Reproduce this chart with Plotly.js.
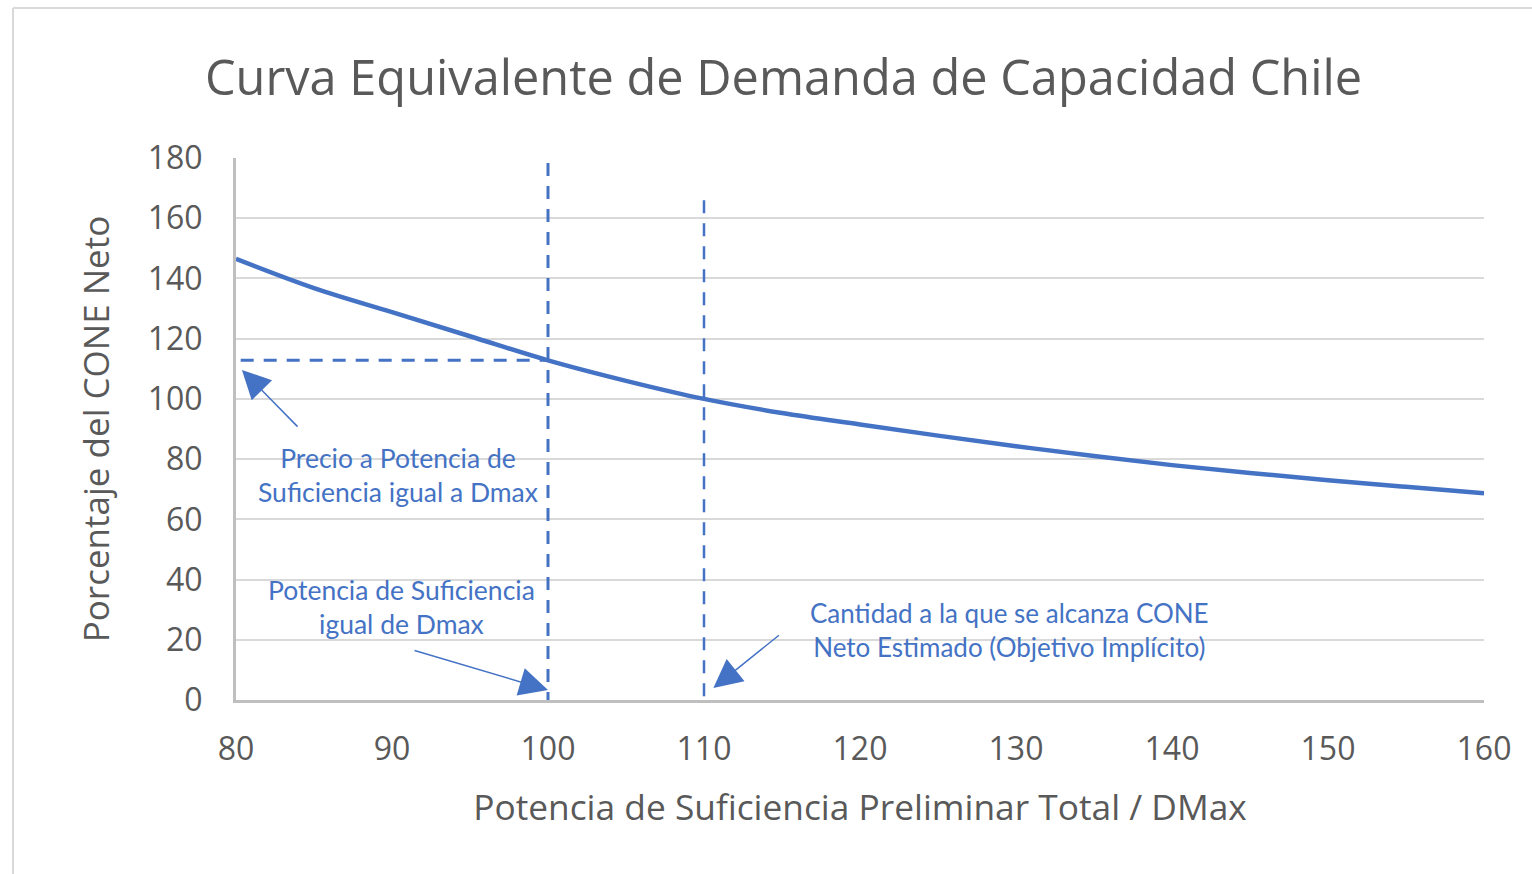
<!DOCTYPE html>
<html>
<head>
<meta charset="utf-8">
<script src="https://cdn.plot.ly/plotly-3.0.1.min.js"></script>
<style>html,body{margin:0;padding:0;background:#fff;}#chart{width:1532px;height:874px;}</style>
</head>
<body>
<div id="chart"></div>
<script>
// Data
const xValues = [80, 85, 90, 95, 100, 105, 110, 115, 120, 125, 130, 135, 140, 145, 150, 155, 160];
const yValues = [146.5, 136.8, 128.8, 120.8, 112.8, 106, 100, 95.3, 91.5, 87.8, 84.3, 81, 78, 75.4, 73, 70.8, 68.7];
const xTicks = [80, 90, 100, 110, 120, 130, 140, 150, 160];
const yTicks = [0, 20, 40, 60, 80, 100, 120, 140, 160, 180];
// reference lines (data units)
const priceLineX = [80.3, 100];
const priceLineY = [112.8, 112.8];
const dmaxLineX = [100, 100];
const dmaxLineY = [178.3, -6];
const targetLineX = [110, 110];
const targetLineY = [166, -6];
// annotation labels
const labelTexts = [
  "Precio a Potencia de<br>Suficiencia igual a Dmax",
  "Potencia de Suficiencia<br>igual de Dmax",
  "Cantidad a la que se alcanza CONE<br>Neto Estimado (Objetivo Implícito)"
];
const labelX = [90.38, 90.58, 129.6];
const labelY = [74.7, 30.9, 23.2];
// arrows: tip and tail in data units
const arrowTipX = [80.38, 100, 110.6];
const arrowTipY = [109.6, 3.3, 4.0];
const arrowTailX = [84.04, 91.35, 114.9];
const arrowTailY = [90.3, 16.6, 21.9];

const blue = '#4472C4';
const grey = '#595959';

const dashStyle = '13px,10px';
const traces = [
  {x: xValues, y: yValues, mode: 'lines', line: {color: blue, width: 4.5, shape: 'spline'}, hoverinfo: 'skip', cliponaxis: false},
  {x: priceLineX, y: priceLineY, mode: 'lines', line: {color: blue, width: 3, dash: dashStyle}, cliponaxis: false},
  {x: dmaxLineX, y: dmaxLineY, mode: 'lines', line: {color: blue, width: 3, dash: dashStyle}, cliponaxis: false},
  {x: targetLineX, y: targetLineY, mode: 'lines', line: {color: blue, width: 2.5, dash: dashStyle}, cliponaxis: false}
];

const labelSizes = [26.5, 26.5, 26];
const annotations = [];
for (let i = 0; i < labelTexts.length; i++) {
  annotations.push({
    x: labelX[i], y: labelY[i], xref: 'x', yref: 'y', text: labelTexts[i], showarrow: false,
    font: {family: 'Lato, Open Sans, sans-serif', size: labelSizes[i], color: blue}, align: 'center',
    xanchor: 'center', yanchor: 'middle'
  });
}
for (let i = 0; i < arrowTipX.length; i++) {
  annotations.push({
    x: arrowTipX[i], y: arrowTipY[i], xref: 'x', yref: 'y',
    ax: arrowTailX[i], ay: arrowTailY[i], axref: 'x', ayref: 'y',
    text: '', showarrow: true, arrowhead: 2, arrowsize: 3.8, arrowwidth: 1.5, arrowcolor: blue
  });
}

const L = 236, T = 158, R = 48, B = 174;
const plotW = 1532 - L - R, plotH = 874 - T - B;
const px = v => (v - L) / plotW;
const py = v => (874 - B - v) / plotH;

const layout = {
  width: 1532, height: 874,
  margin: {l: L, r: R, t: T, b: B},
  paper_bgcolor: '#ffffff', plot_bgcolor: '#ffffff',
  showlegend: false,
  font: {family: 'Open Sans, sans-serif', color: grey},
  title: {text: 'Curva Equivalente de Demanda de Capacidad Chile', font: {family: 'Open Sans, sans-serif', size: 48.7, color: grey},
          xref: 'paper', x: px(783.5), xanchor: 'center', yref: 'container', y: 1 - 78 / 874, yanchor: 'middle'},
  xaxis: {
    range: [80, 160], tickvals: xTicks, ticktext: xTicks.map(String), showgrid: false, zeroline: false,
    showline: true, linecolor: '#bfbfbf', linewidth: 3, ticks: '', ticklabelstandoff: 19,
    tickfont: {family: 'Open Sans, sans-serif', size: 32, color: grey},
    title: {text: 'Potencia de Suficiencia Preliminar Total / DMax', standoff: 27, font: {family: 'Open Sans, sans-serif', size: 35.3, color: grey}},
    fixedrange: true, automargin: false
  },
  yaxis: {
    range: [0, 180], tickvals: yTicks, ticktext: yTicks.map(String), showgrid: true, gridcolor: '#d9d9d9', gridwidth: 2,
    zeroline: false, showline: true, linecolor: '#bfbfbf', linewidth: 3, ticks: '', ticklabelstandoff: 24,
    tickfont: {family: 'Open Sans, sans-serif', size: 32, color: grey},
    title: {text: 'Porcentaje del CONE Neto', standoff: 28, font: {family: 'Open Sans, sans-serif', size: 35, color: grey}},
    fixedrange: true, automargin: false
  },
  annotations: annotations,
  shapes: [
    {type: 'line', xref: 'paper', yref: 'paper', x0: px(13), x1: px(13), y0: py(874), y1: py(8), line: {color: '#d9d9d9', width: 2}},
    {type: 'line', xref: 'paper', yref: 'paper', x0: px(13), x1: px(1532), y0: py(8), y1: py(8), line: {color: '#d9d9d9', width: 2}}
  ]
};

Plotly.newPlot('chart', traces, layout, {displayModeBar: false, staticPlot: true});
</script>
</body>
</html>
